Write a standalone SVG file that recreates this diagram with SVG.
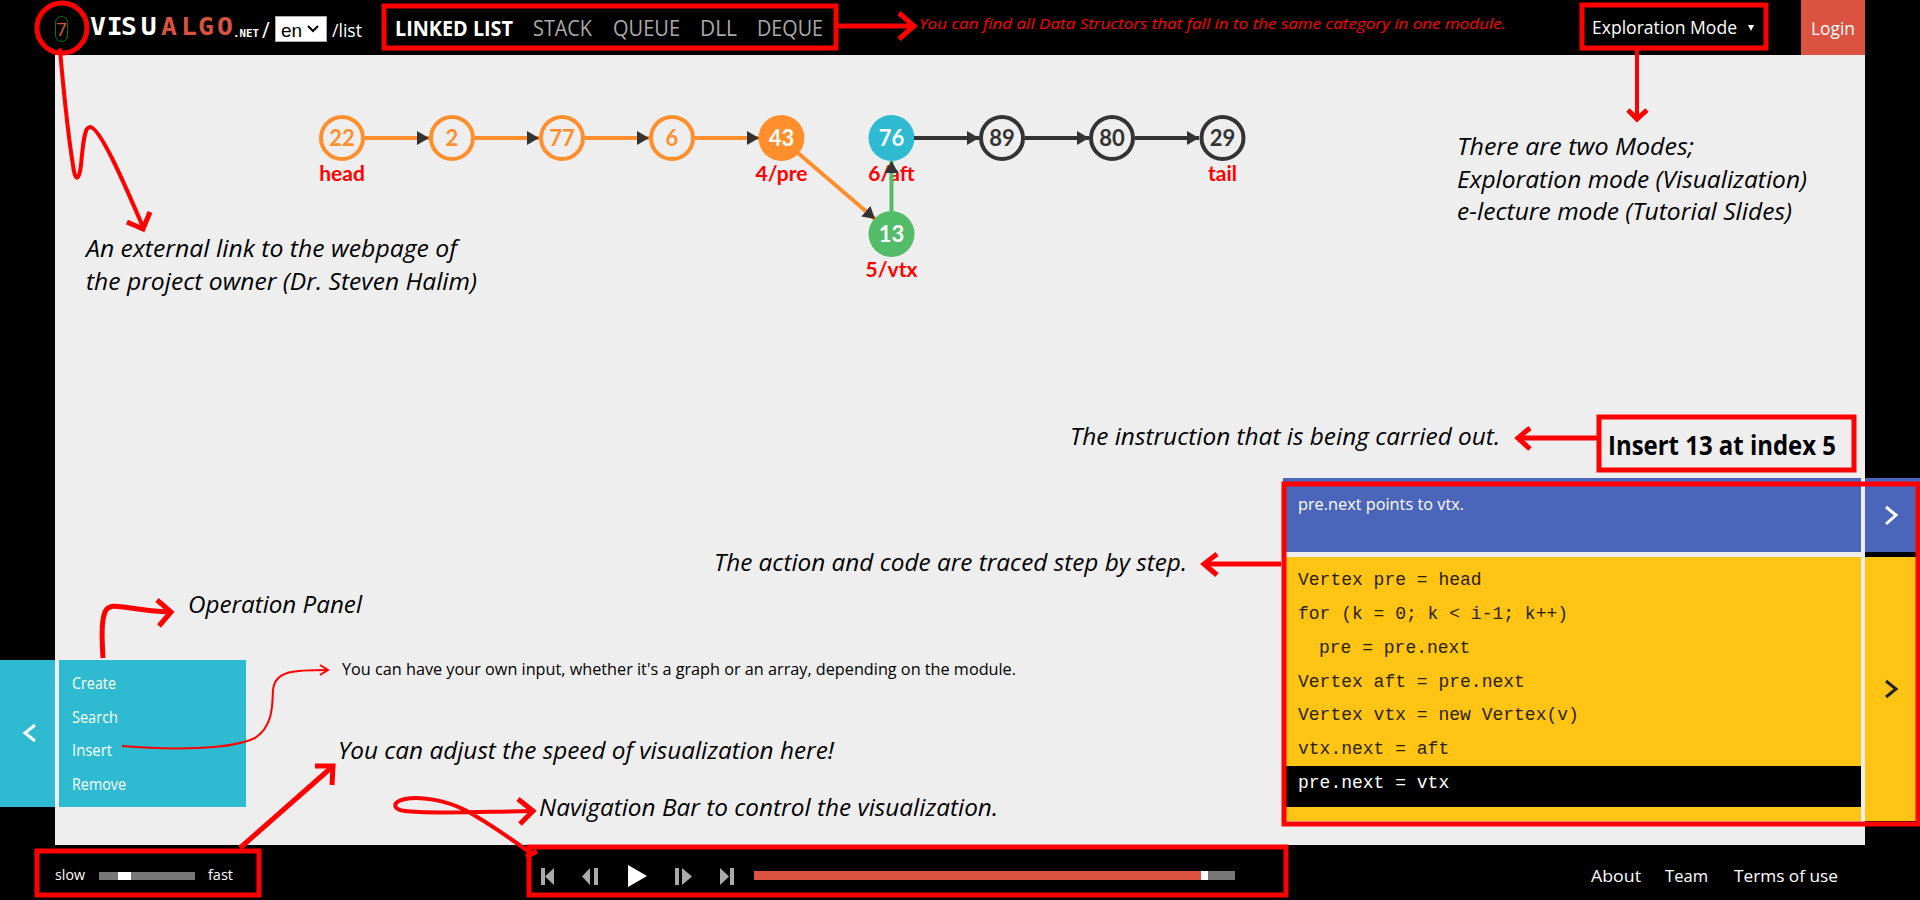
<svg xmlns="http://www.w3.org/2000/svg" width="1920" height="900" viewBox="0 0 1920 900">
<style>
.note{font:italic 24px "Open Sans","Noto Sans",sans-serif;fill:#000}
.ui{font-family:"Open Sans","Noto Sans",sans-serif;fill:#fff}
.menu{font-size:16px}
.nav{font-size:22px;fill:#aaa}
.foot{font-size:17px}
.code{font:18px "Liberation Mono",monospace;fill:#2a2200;white-space:pre}
.nv{font:bold 22px Lato,"Noto Sans",sans-serif;text-anchor:middle}
.lbl{font:bold 21px Lato,"Noto Sans",sans-serif;fill:#f00;text-anchor:middle}
.rd{fill:none;stroke:#f00;stroke-width:5}
.rdt{fill:none;stroke:#f00;stroke-width:4;stroke-linecap:round}
.ic{fill:#aaa}
.or{stroke:#ff8f2c;stroke-width:4;fill:none}
.dk{stroke:#333;stroke-width:4;fill:none}
.gr{stroke:#52bc69;stroke-width:4;fill:none}
.lg{font:bold 24px "DejaVu Sans Mono",monospace}
</style>
<defs>
<marker id="ah" markerUnits="userSpaceOnUse" markerWidth="13" markerHeight="16" refX="12" refY="8" orient="auto"><path d="M0 1L12 8L0 15Z" fill="#333"/></marker>
</defs>
<rect width="1920" height="900" fill="#000"/>
<rect x="55" y="55" width="1810" height="790" fill="#eee"/>

<g id="logo">
<rect x="55.500" y="16.500" width="12" height="25" rx="6" fill="none" stroke="#0a7a0a" stroke-width="1"/>
<text x="56" y="36" font-family="'Open Sans',sans-serif" font-size="19" fill="#db5340">7</text>
<text y="35" class="lg" fill="#fff" transform="scale(1.1 1)" x="81.800 97 110 128">VISU</text>
<text y="35" class="lg" fill="#db5340" transform="scale(1.1 1)" x="146.400 164.500 180 197.300">ALGO</text>
<text x="233" y="37" font-family="'DejaVu Sans Mono',monospace" font-weight="bold" font-size="11" fill="#fff" textLength="26" lengthAdjust="spacingAndGlyphs">.NET</text>
<text x="262" y="38" class="ui" font-size="21">/</text>
<rect x="275.500" y="16.500" width="51" height="25" fill="#fff" stroke="#aaa"/>
<text x="281" y="37" font-family="'Liberation Sans',sans-serif" font-size="19" fill="#000">en</text>
<path d="M308 26L313 31L318 26" fill="none" stroke="#000" stroke-width="2"/>
<text x="332" y="37" class="ui" font-size="18" textLength="30" lengthAdjust="spacingAndGlyphs">/list</text>
</g>

<g id="topnav">
<text x="395" y="36" class="ui" font-size="22" font-weight="bold" textLength="118" lengthAdjust="spacingAndGlyphs">LINKED LIST</text>
<text x="533" y="36" class="ui nav" textLength="59" lengthAdjust="spacingAndGlyphs">STACK</text>
<text x="613" y="36" class="ui nav" textLength="67" lengthAdjust="spacingAndGlyphs">QUEUE</text>
<text x="700" y="36" class="ui nav" textLength="37" lengthAdjust="spacingAndGlyphs">DLL</text>
<text x="757" y="36" class="ui nav" textLength="66" lengthAdjust="spacingAndGlyphs">DEQUE</text>
</g>
<text id="topnote" x="919" y="29" font-family="'Open Sans',sans-serif" font-style="italic" font-size="15" fill="#f00" textLength="587" lengthAdjust="spacingAndGlyphs">You can find all Data Structors that fall in to the same category in one module.</text>

<g id="mode">
<text x="1592" y="34" class="ui" font-size="19" textLength="145" lengthAdjust="spacingAndGlyphs">Exploration Mode</text>
<path d="M1748 25H1754L1751 31Z" fill="#fff"/>
</g>
<g id="login">
<rect x="1801" y="0" width="64" height="55" fill="#db5340"/>
<text x="1811" y="35" class="ui" font-size="19" textLength="44" lengthAdjust="spacingAndGlyphs">Login</text>
</g>

<g id="notes">
<text x="86" y="257" class="note" textLength="371" lengthAdjust="spacingAndGlyphs">An external link to the webpage of</text>
<text x="86" y="290" class="note" textLength="391" lengthAdjust="spacingAndGlyphs">the project owner (Dr. Steven Halim)</text>
<text x="1457" y="155" class="note" textLength="237" lengthAdjust="spacingAndGlyphs">There are two Modes;</text>
<text x="1457" y="188" class="note" textLength="350" lengthAdjust="spacingAndGlyphs">Exploration mode (Visualization)</text>
<text x="1457" y="220" class="note" textLength="335" lengthAdjust="spacingAndGlyphs">e-lecture mode (Tutorial Slides)</text>
<text x="1070" y="445" class="note" textLength="430" lengthAdjust="spacingAndGlyphs">The instruction that is being carried out.</text>
<text x="714" y="571" class="note" textLength="473" lengthAdjust="spacingAndGlyphs">The action and code are traced step by step.</text>
<text x="188" y="613" class="note" textLength="174" lengthAdjust="spacingAndGlyphs">Operation Panel</text>
<text x="338" y="759" class="note" textLength="496" lengthAdjust="spacingAndGlyphs">You can adjust the speed of visualization here!</text>
<text x="539" y="816" class="note" textLength="459" lengthAdjust="spacingAndGlyphs">Navigation Bar to control the visualization.</text>
<text x="342" y="675" font-family="'Open Sans',sans-serif" font-size="16" fill="#000" textLength="674" lengthAdjust="spacingAndGlyphs">You can have your own input, whether it's a graph or an array, depending on the module.</text>
</g>

<g id="n22"><circle cx="342" cy="138" r="21" fill="#eee" stroke="#ff8f2c" stroke-width="4"/><text x="342" y="146" class="nv" fill="#ff8f2c">22</text><text x="342" y="181" class="lbl">head</text></g>
<g id="n2"><circle cx="452" cy="138" r="21" fill="#eee" stroke="#ff8f2c" stroke-width="4"/><text x="452" y="146" class="nv" fill="#ff8f2c">2</text></g>
<g id="n77"><circle cx="562" cy="138" r="21" fill="#eee" stroke="#ff8f2c" stroke-width="4"/><text x="562" y="146" class="nv" fill="#ff8f2c">77</text></g>
<g id="n6"><circle cx="672" cy="138" r="21" fill="#eee" stroke="#ff8f2c" stroke-width="4"/><text x="672" y="146" class="nv" fill="#ff8f2c">6</text></g>
<g id="n43"><circle cx="781.500" cy="138" r="23" fill="#ff8f2c"/><text x="781.500" y="146" class="nv" fill="#fff">43</text><text x="781.500" y="181" class="lbl">4/pre</text></g>
<g id="n76"><circle cx="891.500" cy="138" r="23" fill="#2ebbd1"/><text x="891.500" y="146" class="nv" fill="#fff">76</text><text x="891.500" y="181" class="lbl">6/aft</text></g>
<g id="n89"><circle cx="1002" cy="138" r="21" fill="#eee" stroke="#333" stroke-width="4"/><text x="1002" y="146" class="nv" fill="#333">89</text></g>
<g id="n80"><circle cx="1112" cy="138" r="21" fill="#eee" stroke="#333" stroke-width="4"/><text x="1112" y="146" class="nv" fill="#333">80</text></g>
<g id="n29"><circle cx="1222.500" cy="138" r="21" fill="#eee" stroke="#333" stroke-width="4"/><text x="1222.500" y="146" class="nv" fill="#333">29</text><text x="1222.500" y="181" class="lbl">tail</text></g>
<g id="n13"><circle cx="891.500" cy="234" r="23" fill="#52bc69"/><text x="891.500" y="242" class="nv" fill="#fff">13</text><text x="891.500" y="277" class="lbl">5/vtx</text></g>

<g id="connectors">
<line x1="365" y1="138" x2="429" y2="138" class="or" marker-end="url(#ah)"/>
<line x1="475" y1="138" x2="539" y2="138" class="or" marker-end="url(#ah)"/>
<line x1="585" y1="138" x2="649" y2="138" class="or" marker-end="url(#ah)"/>
<line x1="695" y1="138" x2="759" y2="138" class="or" marker-end="url(#ah)"/>
<line x1="798" y1="153" x2="875" y2="219" class="or" marker-end="url(#ah)"/>
<line x1="891.500" y1="211" x2="891.500" y2="161" class="gr" marker-end="url(#ah)"/>
<line x1="914" y1="138" x2="979" y2="138" class="dk" marker-end="url(#ah)"/>
<line x1="1025" y1="138" x2="1089" y2="138" class="dk" marker-end="url(#ah)"/>
<line x1="1135" y1="138" x2="1199" y2="138" class="dk" marker-end="url(#ah)"/>
</g>

<g id="opspanel">
<rect x="0" y="660" width="55" height="147" fill="#2ebbd1"/>
<rect x="59" y="660" width="187" height="147" fill="#2ebbd1"/>
<path d="M35 725L25 733L35 741" fill="none" stroke="#fff" stroke-width="3"/>
<text x="72" y="689" class="ui menu" textLength="44" lengthAdjust="spacingAndGlyphs">Create</text>
<text x="72" y="723" class="ui menu" textLength="46" lengthAdjust="spacingAndGlyphs">Search</text>
<text x="72" y="756" class="ui menu" textLength="40" lengthAdjust="spacingAndGlyphs">Insert</text>
<text x="72" y="790" class="ui menu" textLength="54" lengthAdjust="spacingAndGlyphs">Remove</text>
</g>

<g id="status">
<text x="1608" y="455" font-family="'Open Sans',sans-serif" font-weight="bold" font-size="26" fill="#000" textLength="228" lengthAdjust="spacingAndGlyphs">Insert 13 at index 5</text>
</g>

<g id="tracer">
<rect x="1283" y="478" width="578" height="74" fill="#4b65ba"/>
<rect x="1865" y="478" width="55" height="74" fill="#4b65ba"/>
<rect x="1865" y="552" width="52" height="5" fill="#000"/>
<rect x="1286" y="557" width="575" height="264" fill="#ffc414"/>
<rect x="1865" y="557" width="52" height="264" fill="#ffc414"/>
<rect x="1286" y="766" width="575" height="41" fill="#000"/>
<text x="1298" y="510" class="ui" font-size="16" textLength="166" lengthAdjust="spacingAndGlyphs">pre.next points to vtx.</text>
<path d="M1886 507L1896 515L1886 524" fill="none" stroke="#fff" stroke-width="3"/>
<path d="M1886 681L1896 689L1886 697" fill="none" stroke="#222" stroke-width="3"/>
<text x="1298" y="585" class="code">Vertex pre = head</text>
<text x="1298" y="619" class="code">for (k = 0; k &lt; i-1; k++)</text>
<text x="1319" y="653" class="code">pre = pre.next</text>
<text x="1298" y="687" class="code">Vertex aft = pre.next</text>
<text x="1298" y="720" class="code">Vertex vtx = new Vertex(v)</text>
<text x="1298" y="754" class="code">vtx.next = aft</text>
<text x="1298" y="788" class="code" style="fill:#fff">pre.next = vtx</text>
</g>

<g id="speed">
<text x="55" y="880" class="ui" font-size="15" textLength="30" lengthAdjust="spacingAndGlyphs">slow</text>
<rect x="99" y="872" width="96" height="8" fill="#777"/>
<rect x="118" y="872" width="13" height="8" fill="#fff"/>
<text x="208" y="880" class="ui" font-size="15" textLength="25" lengthAdjust="spacingAndGlyphs">fast</text>
</g>

<g id="controls">
<path class="ic" d="M541 868h4v17h-4zM554 868v17l-9-8.500z"/>
<path class="ic" d="M590 868v17l-8-8.500zM594 868h4v17h-4z"/>
<path d="M628 865L647 876L628 887Z" fill="#fff"/>
<path class="ic" d="M675 868h4v17h-4zM682 868l10 8.500l-10 8.500z"/>
<path class="ic" d="M720 868l9 8.500l-9 8.500zM730 868h4v17h-4z"/>
<rect x="754" y="871" width="447" height="9" fill="#db5340"/>
<rect x="1201" y="871" width="7" height="9" fill="#fff"/>
<rect x="1208" y="871" width="27" height="9" fill="#777"/>
</g>

<g id="footer">
<text x="1591" y="882" class="ui foot" textLength="50" lengthAdjust="spacingAndGlyphs">About</text>
<text x="1665" y="882" class="ui foot" textLength="43" lengthAdjust="spacingAndGlyphs">Team</text>
<text x="1734" y="882" class="ui foot" textLength="104" lengthAdjust="spacingAndGlyphs">Terms of use</text>
</g>

<g id="annotations">
<circle cx="62" cy="28" r="25" class="rd"/>
<rect x="384" y="6" width="452" height="42" class="rd"/>
<rect x="1582" y="5" width="184" height="43" class="rd"/>
<rect x="1599" y="417" width="255" height="53" class="rd"/>
<rect x="1284" y="484" width="634" height="340" class="rd"/>
<rect x="37" y="851" width="222" height="44" class="rd"/>
<rect x="529" y="847" width="757" height="48" class="rd"/>
<path class="rdt" d="M60 50C64 95 68 135 73 165C75 182 79 182 81 165C83 145 84 127 90 127C100 127 125 185 143 227"/>
<path class="rd" d="M127 222L143 229L150 212"/>
<path class="rd" d="M838 26H913M899 13L914 26L899 39"/>
<path class="rdt" d="M1637 50V119"/>
<path class="rd" d="M1628 110L1637 119L1647 110"/>
<path class="rd" d="M1600 438H1520"/>
<path class="rd" d="M1530 428L1518 438L1530 449"/>
<path class="rd" d="M1281 564H1205"/>
<path class="rd" d="M1217 554L1204 564L1217 575"/>
<path class="rd" d="M103 658C102 640 101 622 105 612C110 600 125 610 170 612"/>
<path class="rd" d="M157 600L171 612L159 626"/>
<path d="M122 746C170 750 230 750 255 738C275 725 272 700 273 690C275 670 295 670 328 670" fill="none" stroke="#f00" stroke-width="2"/>
<path d="M320 665L328 670L320 675" fill="none" stroke="#f00" stroke-width="2"/>
<path class="rd" d="M240 848L332 767"/>
<path class="rd" d="M315 766L333 766L332 785"/>
<path class="rdt" d="M532 854C510 838 480 818 465 810C445 800 420 796 405 799C392 802 392 809 405 811C425 814 470 812 532 811"/>
<path class="rd" d="M518 799L533 811L520 824"/>
<path class="rd" d="M526 857L537 851"/>
</g>
</svg>
